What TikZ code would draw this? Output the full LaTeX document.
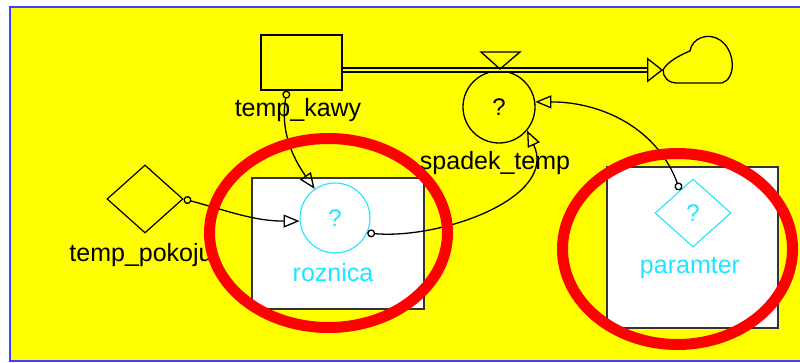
\documentclass[tikz,border=0pt]{standalone}
\usepackage{fontspec}
\setmainfont{Liberation Sans}
\usepackage{xcolor}
\definecolor{PanelYellow}{HTML}{FFFF00}
\definecolor{FrameBlue}{HTML}{4040FF}
\definecolor{AuxCyan}{HTML}{1EE6FF}
\definecolor{MarkRed}{HTML}{FF0000}
\usetikzlibrary{arrows.meta,shapes.geometric,positioning}
\tikzset{
  stockbox/.style={
    draw=black,
    line width=1.4pt,
    minimum width=81pt,
    minimum height=55pt,
    inner sep=0pt
  },
  valvecirc/.style={
    circle,
    draw=black,
    line width=1.3pt,
    minimum size=72pt,
    inner sep=0pt,
    font=\fontsize{24}{26}\selectfont
  },
  auxcirc/.style={
    circle,
    draw=AuxCyan,
    line width=1.1pt,
    minimum size=70pt,
    inner sep=0pt,
    text=AuxCyan,
    font=\fontsize{24}{26}\selectfont
  },
  constdiam/.style={
    diamond,
    draw=black,
    line width=1.2pt,
    minimum width=76pt,
    minimum height=68pt,
    inner sep=0pt,
    font=\fontsize{24}{26}\selectfont
  },
  modbox/.style={
    draw=black!80,
    fill=white,
    line width=1.5pt,
    inner sep=0pt
  },
  namelabel/.style={
    font=\fontsize{25}{28}\selectfont,
    inner sep=0pt
  },
  infl/.style={
    draw=black,
    line width=1.3pt,
    {Circle[open,length=8pt,width=8pt]}-{Triangle[open,length=16pt,width=13pt]}
  },
  markring/.style={
    draw=MarkRed,
    line width=11pt
  }
}

\begin{document}
\begin{tikzpicture}[x=1pt,y=1pt]
  \useasboundingbox (0,0) rectangle (800,363);
  \fill[white] (0,0) rectangle (800,363);
  \draw[FrameBlue, fill=PanelYellow, line width=2pt] (10,2) rectangle (806,356);

  % sub-model boxes
  \node[modbox, minimum width=172pt, minimum height=131pt] (roznbox) at (338,119.5) {};
  \node[modbox, minimum width=171pt, minimum height=161pt] (parambox) at (692.5,115.5) {};

  % stock, flow and cloud
  \node[stockbox] (kawy) at (301.5,300.5) {};
  \node[namelabel] (kawylbl) at (298,253) {temp\_kawy};
  \node[valvecirc] (spad) at (499,256) {?};
  \node[namelabel] (spadlbl) at (495,200) {spadek\_temp};
  \coordinate (pipeend) at (647,293);
  \coordinate (sink) at (663,293);
  \draw[line width=1.4pt, double=PanelYellow, double distance=2.5pt] (kawy.east |- pipeend) -- (pipeend);
  \draw[line width=1.3pt, -{Triangle[open,length=16pt,width=25pt]}] (pipeend) -- (sink);
  \draw[line width=1.3pt] (481,311) -- (520,311) -- (500,294) -- cycle;
  \draw[line width=1.3pt] (sink) .. controls (667,301) and (680,308) .. (690,312)
    .. controls (692,325) and (708,331) .. (720,323)
    .. controls (736,312) and (736,284) .. (722,280) -- (677,280)
    .. controls (668,280) and (663,286) .. (sink);

  % converters and constants
  \node[constdiam] (pok) at (145,164) {};
  \node[namelabel] (poklbl) at (141,108) {temp\_pokoju};
  \node[auxcirc] (rozn) at (335,145) {?};
  \node[namelabel, text=AuxCyan] (roznlbl) at (333,90) {roznica};
  \node[constdiam, draw=AuxCyan, text=AuxCyan, line width=1.1pt] (param) at (693,150) {?};
  \node[namelabel, text=AuxCyan] (paramlbl) at (690,95) {paramter};

  \draw[infl] ([xshift=-14.5pt]kawy.south) to[out=-100,in=125] (rozn.125);
  \draw[infl] (pok.east) to[out=-15,in=180] (rozn.185);
  \draw[infl] (rozn.-25) to[out=-5,in=-65] (spad.-40);
  \draw[infl] (param.120) to[out=110,in=0] (spad.8);

  \draw[markring] (328.5,130) ellipse [x radius=119, y radius=94.5];
  \draw[markring] (677.5,114) ellipse [x radius=115, y radius=95.5];
\end{tikzpicture}
\end{document}
